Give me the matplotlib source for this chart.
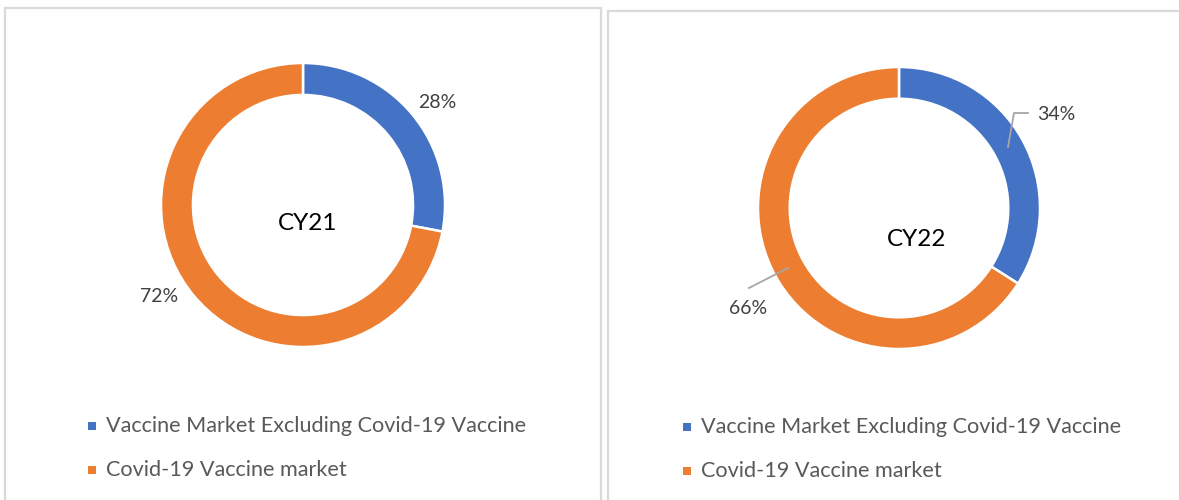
import matplotlib
matplotlib.use("Agg")
import matplotlib.pyplot as plt
from matplotlib.patches import Rectangle
from matplotlib.lines import Line2D

plt.rcParams['font.family'] = ['Lato', 'DejaVu Sans']

categories = ["Vaccine Market Excluding Covid-19 Vaccine", "Covid-19 Vaccine market"]
cy21_values = [28, 72]
cy22_values = [34, 66]
titles = ["CY21", "CY22"]
colors = ["#4472C4", "#ED7D31"]

W, H = 1179, 500
fig = plt.figure(figsize=(W / 100, H / 100), dpi=100)
fig.patch.set_facecolor("white")

def fx(x):
    return x / W

def fy(y):
    return 1 - y / H

# panel borders
for (x0, y0, x1, y1) in [(4.5, 7.5, 600.5, 505), (607.5, 11, 1190, 505)]:
    fig.patches.append(Rectangle((fx(x0), fy(y1)), fx(x1) - fx(x0), fy(y0) - fy(y1),
                                 transform=fig.transFigure, fill=False,
                                 edgecolor="#D9D9D9", linewidth=1.6))

def donut(cx, cy, r, values, title, title_pos):
    half = 170
    ax = fig.add_axes([fx(cx - half), fy(cy + half), 2 * half / W, 2 * half / H])
    lim = half / r
    ax.pie(values, colors=colors, startangle=90, counterclock=False, radius=1,
           wedgeprops=dict(width=0.225, edgecolor="white", linewidth=1.8))
    ax.set_xlim(-lim, lim)
    ax.set_ylim(-lim, lim)
    ax.set_aspect("equal")
    ax.axis("off")
    fig.text(fx(title_pos[0]), fy(title_pos[1]), title, ha="center", va="center",
             fontsize=17.5, color="#000000")

donut(303, 205, 142, cy21_values, titles[0], (308, 223))
donut(899, 208, 141, cy22_values, titles[1], (917, 240))

lab_kw = dict(ha="center", va="center", fontsize=14, color="#404040")
fig.text(fx(437), fy(103), f"{cy21_values[0]}%", **lab_kw)
fig.text(fx(159), fy(296), f"{cy21_values[1]}%", **lab_kw)
fig.text(fx(1056), fy(115), f"{cy22_values[0]}%", **lab_kw)
fig.text(fx(748), fy(308), f"{cy22_values[1]}%", **lab_kw)

# leader lines for CY22
fig.lines.append(Line2D([fx(1008), fx(1014), fx(1028)], [fy(147), fy(113), fy(113)],
                        transform=fig.transFigure, color="#A6A6A6", linewidth=1.3))
fig.lines.append(Line2D([fx(788), fx(749)], [fy(268), fy(288)],
                        transform=fig.transFigure, color="#A6A6A6", linewidth=1.3))

# legends
def legend(x_sq, y_rows):
    for cat, col, y in zip(categories, colors, y_rows):
        fig.patches.append(Rectangle((fx(x_sq - 4), fy(y + 4)), 8 / W, 8 / H,
                                     transform=fig.transFigure, facecolor=col,
                                     edgecolor="none"))
        fig.text(fx(x_sq + 14), fy(y), cat, ha="left", va="center",
                 fontsize=15.6, color="#595959")

legend(92, [426, 470])
legend(687, [427, 471])

fig.savefig("out.png", dpi=100, facecolor="white")
